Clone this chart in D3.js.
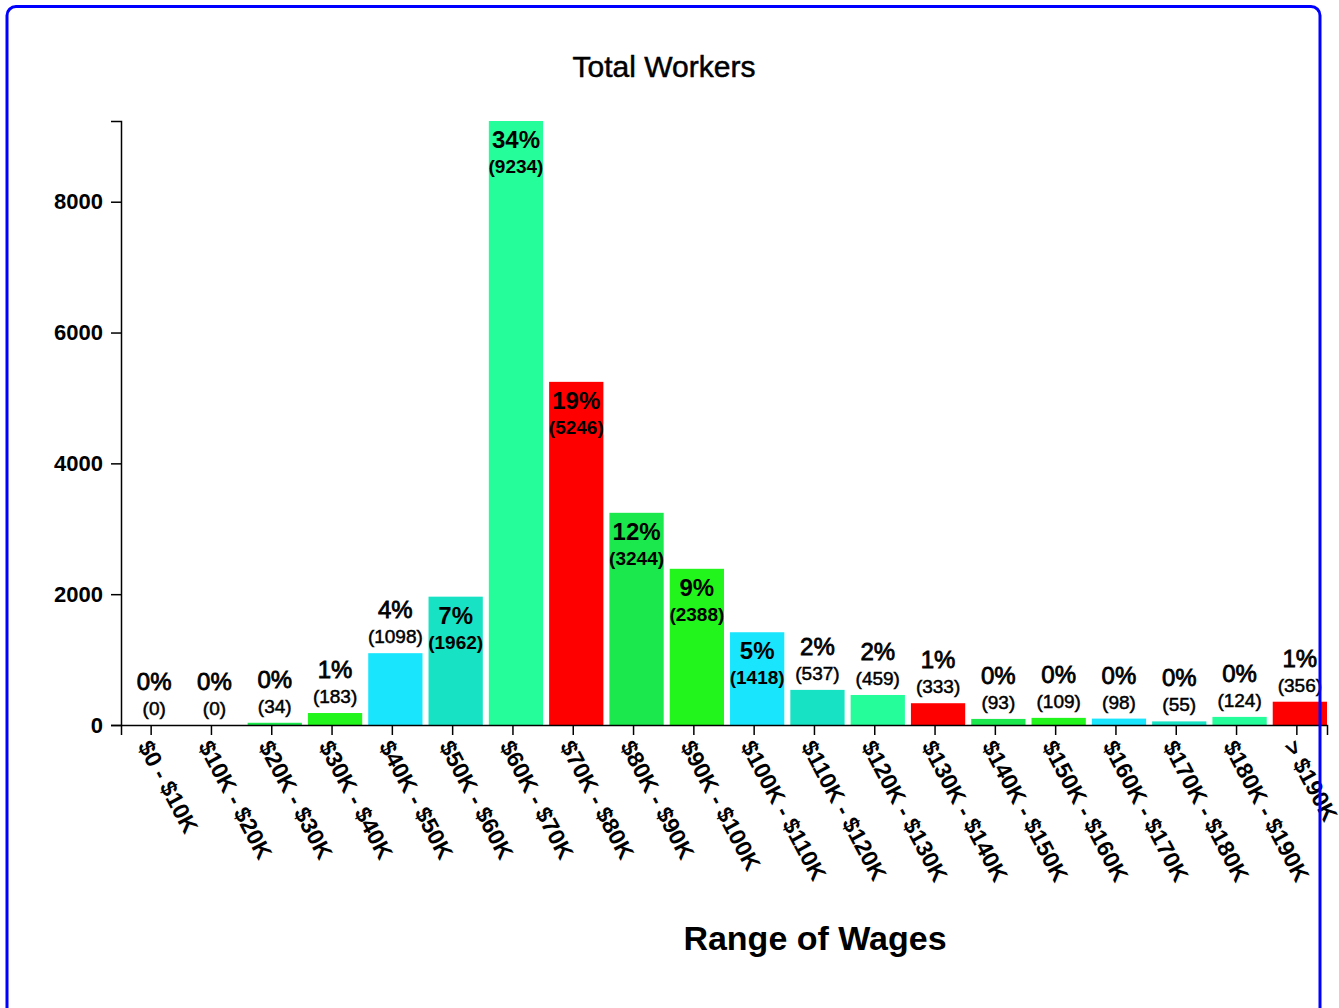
<!DOCTYPE html>
<html>
<head>
<meta charset="utf-8">
<script src="https://cdn.jsdelivr.net/npm/d3@7"></script>
<style>
  body { margin: 0; background: #fff; }
  svg text { font-family: "Helvetica Neue", Helvetica, Arial, "Liberation Sans", sans-serif; fill: #000; }
</style>
</head>
<body>
<div id="graphicContainer"></div>
<script>
// wage ranges and number of workers in each
var wageRanges = ["$0 - $10K", "$10K - $20K", "$20K - $30K", "$30K - $40K", "$40K - $50K",
	"$50K - $60K", "$60K - $70K", "$70K - $80K", "$80K - $90K", "$90K - $100K",
	"$100K - $110K", "$110K - $120K", "$120K - $130K", "$130K - $140K", "$140K - $150K",
	"$150K - $160K", "$160K - $170K", "$170K - $180K", "$180K - $190K", "> $190K"];
var workers = [0, 0, 34, 183, 1098, 1962, 9234, 5246, 3244, 2388,
	1418, 537, 459, 333, 93, 109, 98, 55, 124, 356];
var yTicks = [0, 2000, 4000, 6000, 8000];
var colors = ["#25fd9a", "#ff0000", "#1be84c", "#21f51b", "#19e6fd", "#17e3c4"];

var width = 1339,
	height = 1008,
	margin = {top: 121, left: 121},
	chartWidth = 1206,
	chartHeight = 604;

var total = d3.sum(workers);
var data = wageRanges.map(function(r, i){ return {range: r, value: workers[i], idx: i} });

var svg = d3.select("#graphicContainer")
			.append("svg")
			.attr('width', width)
			.attr('height', height)
			.style('overflow', 'hidden'),
	g = svg.append("g")
			.attr("transform", "translate("+margin.left+","+margin.top+")");

var x = d3.scaleBand()
	.domain(wageRanges)
	.range([0, chartWidth])
	.paddingInner(0.1)
	.paddingOuter(0.05);

// bars sit a little right of their ticks
var barShift = x.step() * 0.05;

var y = d3.scaleLinear()
	.domain([0, d3.max(workers)])
	.range([chartHeight, 0]);

// title
svg.append("text")
	.attr("x", 664)
	.attr("y", 77)
	.attr("text-anchor", "middle")
	.attr("font-size", "30px")
	.attr("stroke", "#000")
	.attr("stroke-width", 0.5)
	.text("Total Workers");

// bars
g.selectAll(".bar")
	.data(data)
	.enter().append("rect")
	.attr("class", "bar")
	.attr("x", function(d){ return x(d.range) + barShift })
	.attr("width", x.bandwidth())
	.attr("y", function(d){ return y(d.value) })
	.attr("height", function(d){ return chartHeight - y(d.value) })
	.attr("fill", function(d){ return colors[d.idx % 6] });

// axes
var xAxis = g.append("g")
	.attr("class", "x axis")
	.attr("transform", "translate(0,"+chartHeight+")")
	.call(d3.axisBottom(x).tickSize(10));

xAxis.selectAll("text")
	.attr("x", 12)
	.attr("y", 22)
	.attr("dy", null)
	.attr("text-anchor", "start")
	.attr("transform", "rotate(62)")
	.attr("font-size", "23px")
	.attr("font-weight", "bold");

var yAxis = g.append("g")
	.attr("class", "y axis")
	.call(d3.axisLeft(y).tickValues(yTicks).tickFormat(d3.format("d")).tickSize(10).tickPadding(8));

yAxis.selectAll("text")
	.attr("font-size", "22px")
	.attr("font-weight", "bold");

g.selectAll(".axis path, .axis line").attr("stroke", "#000").attr("stroke-width", 1.5);

// labels: inside tall bars, above short ones
var inside = function(d){ return chartHeight - y(d.value) > 80 };

var labels = g.selectAll(".barLabel")
	.data(data)
	.enter().append("g")
	.attr("class", "barLabel")
	.attr("transform", function(d){ return "translate("+(x(d.range) + barShift + x.bandwidth()/2)+","+y(d.value)+")" });

labels.append("text")
	.attr("text-anchor", "middle")
	.attr("y", function(d){ return inside(d) ? 27 : -35 })
	.attr("font-size", "24px")
	.attr("font-weight", function(d){ return inside(d) ? "bold" : "normal" })
	.attr("stroke", "#000")
	.attr("stroke-width", function(d){ return inside(d) ? 0 : 0.8 })
	.text(function(d){ return Math.round(d.value / total * 100) + "%" });

labels.append("text")
	.attr("text-anchor", "middle")
	.attr("y", function(d){ return inside(d) ? 52 : -10 })
	.attr("font-size", "19px")
	.attr("font-weight", function(d){ return inside(d) ? "bold" : "normal" })
	.attr("stroke", "#000")
	.attr("stroke-width", function(d){ return inside(d) ? 0 : 0.5 })
	.text(function(d){ return "(" + d.value + ")" });

// axis title
svg.append("text")
	.attr("x", 815)
	.attr("y", 950)
	.attr("text-anchor", "middle")
	.attr("font-size", "34px")
	.attr("font-weight", "bold")
	.text("Range of Wages");

// blue frame, bottom edge runs off the page
svg.append("rect")
	.attr("x", 7)
	.attr("y", 6.5)
	.attr("width", 1313)
	.attr("height", 1010)
	.attr("rx", 9)
	.attr("fill", "none")
	.attr("stroke", "#0000ff")
	.attr("stroke-width", 3);
</script>
</body>
</html>
